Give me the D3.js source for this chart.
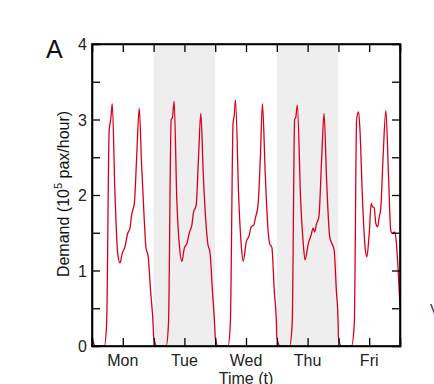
<!DOCTYPE html>
<html>
<head>
<meta charset="utf-8">
<script src="https://cdn.jsdelivr.net/npm/d3@7"></script>
<style>
  body { margin: 0; background: #fff; }
  svg { display: block; font-family: "Liberation Sans", Arial, sans-serif; }
</style>
</head>
<body>
<svg id="chart" width="434" height="384"></svg>
<script>
// day labels and which days get a grey band
var days = ["Mon", "Tue", "Wed", "Thu", "Fri"];
var shadedDays = ["Tue", "Thu"];
var yTickLabels = [0, 1, 2, 3, 4];

// demand per day, [hour of day, demand in 10^5 pax/hour]
var monDemand = [[0, 0.10], [1.4, 0], [4.8, 0], [5.7, 0.3], [6.7, 2.86], [7.3, 3.0], [7.9, 3.21], [8.9, 2.07], [10.0, 1.23], [10.9, 1.10], [11.8, 1.23], [12.8, 1.31], [13.9, 1.49], [14.8, 1.56], [15.4, 1.73], [16.5, 1.89], [17.4, 2.5], [18.4, 3.15], [19.3, 2.42], [20.3, 1.71], [21.0, 1.31], [21.9, 1.18], [22.8, 0.74], [23.9, 0.21]];
var tueDemand = [[0, 0.12], [1.3, 0], [4.9, 0], [5.8, 0.3], [6.85, 3.0], [7.3, 3.02], [8.0, 3.24], [9.05, 1.93], [10.1, 1.31], [11.0, 1.12], [12.0, 1.30], [12.9, 1.35], [14.0, 1.51], [14.9, 1.60], [15.5, 1.76], [16.6, 1.87], [17.5, 2.5], [18.4, 3.08], [19.4, 2.24], [20.5, 1.58], [21.1, 1.36], [22.0, 1.23], [22.9, 0.74], [23.9, 0.2]];
var wedDemand = [[0, 0.12], [1.1, 0], [5.0, 0], [5.9, 0.3], [6.96, 2.95], [7.4, 3.05], [7.9, 3.26], [9.2, 1.93], [10.2, 1.31], [10.9, 1.12], [12.1, 1.38], [13.1, 1.45], [14.1, 1.58], [15.0, 1.60], [15.7, 1.70], [16.7, 1.87], [17.6, 2.5], [18.4, 3.21], [19.5, 2.28], [20.6, 1.53], [21.2, 1.36], [22.1, 1.30], [23.0, 0.74], [23.9, 0.25]];
var thuDemand = [[0, 0.12], [1.24, 0], [5.0, 0], [6.0, 0.3], [6.95, 3.0], [7.4, 3.03], [8.0, 3.19], [9.3, 1.93], [10.3, 1.36], [11.0, 1.14], [12.3, 1.36], [13.2, 1.45], [14.2, 1.56], [14.7, 1.51], [15.5, 1.62], [16.4, 1.71], [17.5, 2.5], [18.4, 3.08], [19.4, 2.2], [20.6, 1.45], [21.4, 1.36], [22.3, 1.28], [23.2, 0.74], [23.9, 0.3]];
var friDemand = [[0, 0.12], [1.1, 0], [5.1, 0], [6.2, 0.3], [7.1, 3.0], [7.85, 3.10], [8.4, 2.86], [9.4, 1.93], [10.4, 1.31], [11.1, 1.18], [12.0, 1.49], [12.8, 1.89], [13.3, 1.84], [13.9, 1.84], [14.6, 1.62], [15.3, 1.58], [15.9, 1.71], [16.5, 1.82], [17.4, 2.5], [18.5, 3.12], [19.5, 2.28], [20.4, 1.53], [21.0, 1.49], [21.9, 1.51], [22.6, 1.36], [23.2, 1.05], [24, 0.53]];

var allDays = [monDemand, tueDemand, wedDemand, thuDemand, friDemand];

var margin = { top: 44, right: 34, bottom: 38, left: 92 },
  width = 434 - margin.left - margin.right,
  height = 384 - margin.top - margin.bottom;

var svg = d3.select("#chart");
var g = svg.append("g").attr("transform", "translate(" + margin.left + "," + margin.top + ")");

// hours since Monday 0:00
var x = d3.scaleLinear().domain([0, 24 * days.length]).range([0, width]);
var y = d3.scaleLinear().domain([0, 4]).range([height, 0]);

// flatten the days into one series
var series = [];
allDays.forEach(function (pts, i) {
  pts.forEach(function (p) { series.push({ t: i * 24 + p[0], v: p[1] }); });
});

// grey bands
g.selectAll(".band")
  .data(shadedDays)
  .enter()
  .append("rect")
  .attr("x", function (d) { return x(days.indexOf(d) * 24) })
  .attr("y", 0)
  .attr("width", x(24) - x(0))
  .attr("height", height)
  .style("fill", "#eeeeee");

var line = d3.line()
  .curve(d3.curveMonotoneX)
  .x(function (d) { return x(d.t) })
  .y(function (d) { return y(d.v) });

g.append("path")
  .datum(series)
  .attr("d", line)
  .style("fill", "none")
  .style("stroke", "#d6001c")
  .style("stroke-width", 1.3)
  .style("stroke-linejoin", "round");

// axes: ticks point inward, every half day / every 0.5
var halfDays = d3.range(12, 24 * days.length, 12);
var halfSteps = d3.range(0.5, 4, 0.5);

g.append("g")
  .attr("class", "x-axis")
  .attr("transform", "translate(0," + height + ")")
  .call(d3.axisBottom(x).tickValues(halfDays).tickSize(-8).tickFormat(""));
g.append("g")
  .attr("class", "x-axis-top")
  .call(d3.axisTop(x).tickValues(halfDays).tickSize(-8).tickFormat(""));
g.append("g")
  .attr("class", "y-axis")
  .call(d3.axisLeft(y).tickValues(halfSteps).tickSize(-8).tickFormat(""));
g.append("g")
  .attr("class", "y-axis-right")
  .attr("transform", "translate(" + width + ",0)")
  .call(d3.axisRight(y).tickValues(halfSteps).tickSize(-8).tickFormat(""));

g.selectAll(".domain").style("stroke", "#000").style("stroke-width", 1.6);
g.selectAll(".tick line").style("stroke", "#000").style("stroke-width", 1.3);

// frame drawn over the line
g.append("rect")
  .attr("width", width)
  .attr("height", height)
  .style("fill", "none")
  .style("stroke", "#000")
  .style("stroke-width", 1.6);

// y tick labels
g.selectAll(".ylab")
  .data(yTickLabels)
  .enter()
  .append("text")
  .attr("x", -5)
  .attr("y", function (d) { return y(d) + 6 })
  .attr("text-anchor", "end")
  .style("font-size", "16px")
  .style("fill", "#222")
  .text(function (d) { return d });

// day labels
g.selectAll(".xlab")
  .data(days)
  .enter()
  .append("text")
  .attr("x", function (d, i) { return x(i * 24 + 12) })
  .attr("y", height + 20)
  .attr("text-anchor", "middle")
  .style("font-size", "16px")
  .style("fill", "#222")
  .text(function (d) { return d });

g.append("text")
  .attr("x", x(60))
  .attr("y", height + 38)
  .attr("text-anchor", "middle")
  .style("font-size", "16px")
  .style("fill", "#222")
  .text("Time (t)");

var ylabel = svg.append("text")
  .attr("transform", "translate(69," + (margin.top + height / 2 - 1) + ") rotate(-90)")
  .attr("text-anchor", "middle")
  .style("font-size", "16px")
  .style("fill", "#111");
ylabel.append("tspan").text("Demand (10");
ylabel.append("tspan").attr("dy", -7).style("font-size", "11px").text("5");
ylabel.append("tspan").attr("dy", 7).text(" pax/hour)");

svg.append("text")
  .attr("x", 46)
  .attr("y", 58)
  .style("font-size", "25px")
  .style("fill", "#111")
  .text("A");

// edge of the neighbouring panel, mostly outside the frame
svg.append("text")
  .attr("x", 430)
  .attr("y", 314)
  .style("font-size", "14px")
  .style("fill", "#2b1d5c")
  .text("V");
</script>
</body>
</html>
